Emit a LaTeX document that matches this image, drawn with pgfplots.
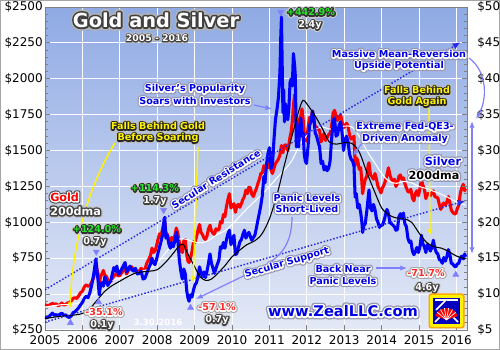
\documentclass[border=0pt]{standalone}
\usepackage{fontspec}
\setmainfont{DejaVu Sans}
\usepackage{pgfplots}
\pgfplotsset{compat=1.18}
\usepackage{pgfplotstable}
\usetikzlibrary{arrows.meta}

\definecolor{bgtop}{RGB}{143,170,228}
\definecolor{bgbot}{RGB}{228,233,246}
\definecolor{axgray}{RGB}{128,128,128}
\definecolor{lblue}{RGB}{128,128,255}
\definecolor{tblue}{RGB}{0,0,230}
\definecolor{dblue}{RGB}{40,40,230}
\definecolor{ggreen}{RGB}{40,230,40}
\definecolor{tred}{RGB}{255,40,40}
\definecolor{hgray}{RGB}{150,150,175}

\pgfplotstableread{
t g s
2005.00 425 6.75
2005.05 422 6.70
2005.10 420 6.85
2005.15 428 7.10
2005.20 436 7.35
2005.25 428 7.05
2005.30 432 7.15
2005.35 420 6.95
2005.40 425 7.20
2005.45 438 7.35
2005.50 424 7.05
2005.55 428 7.10
2005.60 438 6.85
2005.65 440 6.75
2005.70 452 6.95
2005.75 470 7.40
2005.80 475 7.55
2005.85 470 7.80
2005.90 488 8.10
2005.95 510 8.50
2006.00 520 8.85
2006.05 550 9.40
2006.10 565 9.70
2006.15 555 9.50
2006.20 560 10.20
2006.25 585 11.30
2006.30 615 12.70
2006.33 655 13.80
2006.36 720 14.90
2006.39 670 13.20
2006.42 640 11.80
2006.45 570 9.90
2006.48 615 11.00
2006.52 640 11.60
2006.56 665 11.10
2006.60 630 12.40
2006.64 625 11.80
2006.68 600 11.20
2006.72 580 11.60
2006.76 590 11.90
2006.80 600 12.80
2006.84 635 13.70
2006.88 630 13.20
2006.92 645 13.90
2006.96 625 12.80
2007.00 630 12.90
2007.05 650 13.50
2007.10 665 14.00
2007.14 685 14.40
2007.18 640 13.10
2007.22 660 13.40
2007.27 680 13.90
2007.32 690 13.40
2007.37 665 13.20
2007.42 670 13.60
2007.47 650 12.80
2007.52 660 12.90
2007.57 680 13.20
2007.62 665 12.10
2007.67 670 12.20
2007.72 715 12.90
2007.77 740 13.60
2007.82 770 14.20
2007.86 820 15.00
2007.90 790 14.40
2007.94 800 14.10
2007.98 835 14.80
2008.02 880 15.70
2008.06 920 16.50
2008.10 905 17.30
2008.14 950 18.20
2008.17 985 19.80
2008.20 1005 20.70
2008.23 930 17.80
2008.27 915 18.20
2008.31 880 17.00
2008.35 870 16.40
2008.39 895 17.20
2008.43 880 16.60
2008.47 905 17.40
2008.51 960 18.60
2008.55 925 17.60
2008.59 860 14.80
2008.63 810 13.20
2008.67 790 12.10
2008.71 870 13.50
2008.75 880 12.80
2008.79 770 10.40
2008.82 730 9.50
2008.85 720 9.00
2008.89 750 9.90
2008.93 800 9.60
2008.97 865 10.60
2009.01 860 11.30
2009.05 900 11.60
2009.09 945 12.50
2009.13 985 13.80
2009.17 930 13.00
2009.21 915 12.40
2009.25 890 13.10
2009.29 880 12.30
2009.33 905 13.20
2009.37 955 14.30
2009.41 980 15.60
2009.45 940 14.30
2009.49 925 13.60
2009.53 915 12.90
2009.57 955 13.60
2009.61 945 14.20
2009.65 950 14.80
2009.69 1005 16.60
2009.73 995 16.40
2009.77 1055 17.20
2009.81 1040 16.40
2009.85 1110 17.60
2009.89 1160 18.40
2009.93 1200 18.90
2009.97 1100 16.90
2010.01 1120 17.40
2010.05 1130 18.20
2010.09 1070 15.50
2010.13 1115 15.70
2010.17 1125 16.50
2010.21 1105 17.30
2010.25 1130 17.60
2010.29 1160 18.30
2010.33 1180 18.90
2010.37 1225 17.80
2010.41 1200 18.30
2010.45 1245 18.60
2010.49 1240 18.00
2010.53 1195 17.50
2010.57 1180 17.90
2010.61 1210 18.20
2010.65 1235 19.20
2010.69 1270 20.30
2010.73 1300 21.30
2010.77 1340 22.40
2010.81 1345 23.80
2010.85 1395 26.40
2010.88 1360 25.50
2010.92 1400 28.00
2010.96 1380 29.60
2011.00 1415 30.40
2011.04 1365 27.50
2011.08 1340 28.00
2011.12 1375 31.50
2011.16 1410 34.30
2011.20 1425 35.70
2011.24 1440 37.40
2011.28 1470 41.00
2011.30 1505 45.50
2011.32 1535 48.60
2011.34 1520 42.00
2011.36 1485 35.30
2011.38 1515 38.50
2011.40 1535 34.00
2011.43 1540 36.50
2011.46 1525 35.00
2011.49 1500 34.30
2011.52 1545 36.00
2011.55 1595 39.50
2011.58 1630 40.00
2011.61 1700 39.00
2011.64 1810 43.50
2011.67 1890 42.00
2011.69 1810 40.50
2011.72 1640 30.50
2011.75 1630 31.00
2011.78 1660 30.50
2011.81 1725 33.50
2011.84 1745 34.50
2011.87 1790 32.00
2011.90 1720 32.50
2011.93 1600 29.50
2011.96 1590 28.50
2011.99 1565 28.20
2012.03 1655 30.50
2012.07 1730 33.50
2012.11 1720 34.00
2012.15 1775 35.50
2012.19 1700 34.50
2012.22 1670 32.50
2012.26 1660 32.00
2012.30 1650 31.20
2012.34 1640 30.50
2012.38 1560 28.20
2012.42 1590 28.50
2012.46 1620 27.30
2012.50 1570 27.80
2012.54 1590 27.20
2012.58 1610 27.50
2012.62 1620 28.50
2012.66 1670 31.50
2012.70 1760 34.00
2012.74 1780 34.50
2012.78 1740 32.00
2012.82 1710 32.20
2012.86 1730 33.50
2012.90 1750 34.00
2012.94 1700 32.50
2012.98 1660 30.00
2013.02 1670 31.50
2013.06 1690 32.00
2013.10 1670 31.20
2013.14 1610 29.50
2013.18 1580 28.80
2013.22 1590 28.60
2013.26 1600 27.80
2013.29 1395 23.50
2013.32 1450 24.00
2013.36 1430 22.00
2013.40 1370 22.50
2013.44 1380 21.30
2013.47 1280 20.00
2013.49 1200 18.60
2013.52 1250 19.50
2013.56 1300 19.80
2013.60 1320 21.50
2013.64 1400 23.50
2013.66 1415 24.50
2013.70 1330 22.00
2013.74 1320 21.60
2013.78 1300 22.50
2013.82 1340 21.80
2013.86 1300 20.50
2013.90 1250 20.00
2013.94 1230 19.30
2013.98 1205 19.60
2014.02 1240 19.60
2014.06 1260 20.20
2014.10 1290 21.00
2014.14 1330 21.80
2014.18 1380 21.20
2014.22 1330 20.00
2014.26 1300 19.80
2014.30 1290 19.60
2014.34 1300 19.40
2014.38 1250 18.90
2014.42 1270 19.00
2014.46 1320 20.80
2014.50 1330 21.20
2014.54 1300 20.50
2014.58 1310 21.30
2014.62 1270 19.80
2014.66 1240 19.40
2014.70 1215 17.80
2014.74 1210 17.20
2014.78 1230 17.40
2014.82 1170 16.00
2014.86 1150 15.50
2014.90 1200 15.90
2014.94 1220 16.50
2014.98 1185 15.80
2015.02 1230 16.50
2015.06 1300 18.20
2015.10 1260 17.00
2015.14 1230 16.60
2015.18 1165 15.80
2015.22 1200 16.90
2015.26 1200 16.60
2015.30 1185 16.00
2015.34 1205 16.50
2015.38 1220 17.50
2015.42 1180 16.40
2015.46 1175 15.80
2015.50 1170 15.60
2015.54 1125 14.80
2015.58 1090 14.70
2015.62 1120 14.30
2015.66 1135 15.10
2015.70 1120 14.60
2015.74 1140 15.20
2015.78 1180 16.20
2015.82 1140 15.60
2015.86 1085 14.30
2015.90 1070 14.20
2015.94 1060 13.90
2015.98 1060 13.80
2016.02 1095 14.20
2016.06 1120 14.30
2016.10 1200 15.00
2016.14 1240 15.30
2016.18 1265 14.90
2016.22 1220 15.60
2016.24 1235 15.20
}\pricetab

\pgfplotstableread{
t gd
2005.00 410
2005.40 425
2005.80 432
2006.00 448
2006.20 480
2006.40 525
2006.60 570
2006.80 595
2007.00 612
2007.20 628
2007.40 645
2007.60 662
2007.80 675
2008.00 715
2008.20 780
2008.40 845
2008.60 885
2008.80 880
2009.00 862
2009.20 858
2009.40 878
2009.60 915
2009.80 940
2010.00 985
2010.20 1040
2010.40 1095
2010.60 1145
2010.80 1195
2011.00 1250
2011.20 1310
2011.40 1365
2011.60 1430
2011.80 1535
2012.00 1605
2012.20 1645
2012.40 1665
2012.60 1650
2012.80 1655
2013.00 1670
2013.20 1665
2013.40 1600
2013.60 1500
2013.80 1420
2014.00 1340
2014.20 1285
2014.40 1272
2014.60 1285
2014.80 1275
2015.00 1250
2015.20 1235
2015.40 1215
2015.60 1195
2015.80 1170
2016.00 1142
2016.24 1120
}\gdmatab

\pgfplotstableread{
t sd
2005.00 6.6
2005.40 6.9
2005.80 7.1
2006.00 7.3
2006.20 8.0
2006.40 9.2
2006.60 10.4
2006.80 11.2
2007.00 11.8
2007.20 12.4
2007.40 12.9
2007.60 13.1
2007.80 13.2
2008.00 13.4
2008.20 14.3
2008.40 15.5
2008.60 16.8
2008.70 16.9
2008.80 15.8
2009.00 13.8
2009.15 12.4
2009.30 11.9
2009.45 12.1
2009.60 12.8
2009.80 13.9
2010.00 15.2
2010.20 16.1
2010.40 16.9
2010.60 17.4
2010.80 18.4
2011.00 20.5
2011.20 23.8
2011.40 28.0
2011.60 32.0
2011.80 35.8
2011.90 37.0
2012.00 36.5
2012.20 35.0
2012.40 33.2
2012.60 31.2
2012.80 30.9
2013.00 31.1
2013.20 31.0
2013.40 29.8
2013.60 27.0
2013.80 24.4
2014.00 22.0
2014.20 21.0
2014.40 20.6
2014.60 20.5
2014.80 20.0
2015.00 18.5
2015.20 17.2
2015.40 16.6
2015.60 16.4
2015.80 15.9
2016.00 15.3
2016.24 14.9
}\sdmatab

% outlined text through the PDF text render mode (stroke), then normal fill on top
\newcommand\strk[2]{\special{pdf:literal direct 1 Tr #1 w 1 j 1 J}#2\special{pdf:literal direct 0 Tr}}
% \halo{x}{y}{node opts}{stroke colour}{stroke width}{text colour}{text}
\newcommand\halo[7]{%
 \node[inner sep=0pt,#3] at (#1,#2) {\rlap{\color{#4}\strk{#5}{#7}}{\color{#6}#7}};}
% \haloo{x}{y}{node opts}{outer colour}{outer width}{inner colour}{inner width}{text colour}{text}
\newcommand\haloo[9]{%
 \node[inner sep=0pt,#3] at (#1,#2) {\rlap{\color{#4}\strk{#5}{#9}}\rlap{\color{#6}\strk{#7}{#9}}{\color{#8}#9}};}
\newcommand\bluetxt[4]{\haloo{#1}{#2}{#3}{hgray}{3.8}{white}{2.1}{tblue}{#4}}
\newcommand\fA{\fontsize{7.2}{8.6}\selectfont\bfseries}
\newcommand\fB{\fontsize{8.4}{10}\selectfont\bfseries}
\newcommand\fT{\fontsize{14.5}{17}\selectfont\bfseries}
\newcommand\fS{\fontsize{7}{8}\selectfont\bfseries}
\newcommand\fW{\fontsize{11}{13}\selectfont\bfseries}

\pgfplotsset{
  common/.style={
    at={(33.75pt,15pt)}, anchor=south west, scale only axis,
    width=316.5pt, height=242.25pt,
    xmin=2005, xmax=2016.28,
    /pgf/number format/assume math mode=true,
    /pgf/number format/1000 sep={},
    tick label style={font=\fontsize{9}{10}\selectfont},
    axis line style={axgray},
    tick style={axgray, line width=0.6pt},
    major tick length=3.5pt, minor tick length=2pt,
    tick align=inside,
  }
}

\begin{document}
\begin{tikzpicture}
\useasboundingbox (0,0) rectangle (375pt,262.5pt);
\fill[white] (0,0) rectangle (375pt,262.5pt);
\draw[axgray!70, line width=0.75pt] (0.375pt,0.375pt) rectangle (374.625pt,262.125pt);

\begin{axis}[common,
  ymin=250, ymax=2500,
  axis background/.style={top color=bgtop, bottom color=bgbot},
  grid=major, grid style={white, line width=0.75pt},
  xtick={2005,...,2016},
  ytick={250,500,...,2500},
  minor y tick num=4,
  tick pos=left,
  yticklabel={\$\pgfmathprintnumber{\tick}},
  yticklabel style={anchor=east, inner sep=0pt, xshift=-1.5pt},
  xticklabel style={anchor=north, inner sep=0pt, yshift=-4pt},
]
\addplot[red, line width=2.3pt, line join=round] table[x=t,y=g] {\pricetab};
\addplot[white, line width=0.8pt, smooth] table[x=t,y=gd] {\gdmatab};
\end{axis}

\begin{axis}[common,
  ymin=5, ymax=50,
  axis y line*=right, axis x line=none,
  ytick={5,10,...,50},
  minor y tick num=4,
  yticklabel={\$\pgfmathprintnumber{\tick}},
  yticklabel style={anchor=west, inner sep=0pt, xshift=7.5pt},
]
\addplot[blue, line width=2.3pt, line join=round] table[x=t,y=s] {\pricetab};
\addplot[black, line width=0.8pt, smooth] table[x=t,y=sd] {\sdmatab};
\addplot[dblue, line width=1.1pt, dash pattern=on 1.1pt off 1.4pt, -{Latex[length=6pt,width=5pt]}] coordinates {(2005.0,10.6) (2016.11,45.1)};
\addplot[dblue, line width=1.1pt, dash pattern=on 1.1pt off 1.4pt, -{Latex[length=6pt,width=5pt]}] coordinates {(2005.0,6.1) (2016.24,23.0)};
\addplot[only marks, mark=triangle*, mark size=2.6pt, lblue, mark options={rotate=180}] coordinates {(2006.37,15.9) (2008.17,21.7) (2011.30,49.3)};
\addplot[only marks, mark=triangle*, mark size=2.6pt, lblue] coordinates {(2005.68,6.0) (2006.43,8.9) (2008.89,8.1) (2015.98,12.7)};
\end{axis}

\begin{scope}[x=0.75pt, y=-0.75pt, yshift=262.5pt]
% yellow arrows
\draw[yellow, line width=1.1pt, -{Latex[length=5pt,width=4pt]}] (115,143) .. controls (86,190) and (72,250) .. (70,309);
\draw[yellow, line width=1.1pt, -{Latex[length=5pt,width=4pt]}] (198,147) -- (193,283);
\draw[yellow, line width=1.1pt, -{Latex[length=5pt,width=4pt]}] (429,108) -- (430,236);
% light blue arrows
\draw[lblue, line width=0.9pt, -{Latex[length=5pt,width=4pt]}] (254,105) -- (272,109);
\draw[lblue, line width=0.9pt, -{Latex[length=5pt,width=4pt]}] (362,143) -- (353,156);
\draw[lblue, line width=0.9pt, -{Latex[length=5pt,width=4pt]}] (292,217) .. controls (292,245) and (280,258) .. (260,268) -- (196,299);
\draw[lblue, line width=0.9pt, -{Latex[length=5pt,width=4pt]}] (376,268) -- (407,268);
\draw[lblue, line width=0.9pt, -{Latex[length=5pt,width=4pt]}] (469,58) .. controls (488,72) and (487,100) .. (476,119);
\draw[lblue, line width=1.1pt, {Latex[length=5pt,width=4pt]}-{Latex[length=5pt,width=4pt]}] (472,121) -- (472,254);

% title
\haloo{156}{20}{font=\fT}{gray!60}{5}{black!75}{2.6}{white}{Gold and Silver}
\haloo{157}{38}{font=\fS}{gray!50}{3}{black!75}{1.6}{white}{2005 - 2016}

% blue texts
\bluetxt{195}{89}{font=\fA}{Silver's Popularity}
\bluetxt{195}{101}{font=\fA}{Soars with Investors}
\bluetxt{399}{54}{font=\fA}{Massive Mean-Reversion}
\bluetxt{399}{66}{font=\fA}{Upside Potential}
\bluetxt{405}{127}{font=\fA}{Extreme Fed-QE3-}
\bluetxt{405}{139}{font=\fA}{Driven Anomaly}
\bluetxt{307}{198}{font=\fA}{Panic Levels}
\bluetxt{307}{209}{font=\fA}{Short-Lived}
\bluetxt{343}{269}{font=\fA}{Back Near}
\bluetxt{343}{281}{font=\fA}{Panic Levels}
\bluetxt{216}{179}{font=\fA,rotate=32}{Secular Resistance}
\bluetxt{287}{263}{font=\fA,rotate=16.5}{Secular Support}

% yellow texts
\haloo{158}{126}{font=\fA}{gray!50}{3.6}{black!85}{2}{yellow}{Falls Behind Gold}
\haloo{158}{138}{font=\fA}{gray!50}{3.6}{black!85}{2}{yellow}{Before Soaring}
\haloo{417}{90}{font=\fA}{gray!50}{3.6}{black!85}{2}{yellow}{Falls Behind}
\haloo{417}{102}{font=\fA}{gray!50}{3.6}{black!85}{2}{yellow}{Gold Again}

% series labels
\haloo{50}{197}{font=\fB,anchor=west}{black!70}{3.6}{white}{2}{red}{Gold}
\haloo{50}{211}{font=\fB,anchor=west}{gray!50}{3.8}{black!75}{2.2}{white}{200dma}
\haloo{443}{161}{font=\fB}{hgray}{4}{white}{2.2}{tblue}{Silver}
\haloo{434}{175}{font=\fB}{hgray}{4}{white}{2.2}{black}{200dma}

% gains
\haloo{97}{229}{font=\fA}{gray!40}{3.6}{black!80}{2}{ggreen}{+124.0\%}
\haloo{95}{242}{font=\fA}{gray!40}{3.6}{black!75}{2}{white}{0.7y}
\haloo{155}{188}{font=\fA}{gray!40}{3.6}{black!80}{2}{ggreen}{+114.3\%}
\haloo{155}{201}{font=\fA}{gray!40}{3.6}{black!75}{2}{white}{1.7y}
\haloo{311}{12}{font=\fA}{gray!40}{3.6}{black!80}{2}{ggreen}{+442.9\%}
\haloo{310}{25}{font=\fA}{gray!40}{3.6}{black!75}{2}{white}{2.4y}
% losses
\haloo{104}{312}{font=\fA}{gray!70}{3.6}{white}{2}{tred}{-35.1\%}
\haloo{102}{325}{font=\fA}{gray!40}{3.6}{black!75}{2}{white}{0.1y}
\haloo{217}{307}{font=\fA}{gray!70}{3.6}{white}{2}{tred}{-57.1\%}
\haloo{217}{320}{font=\fA}{gray!40}{3.6}{black!75}{2}{white}{0.7y}
\haloo{426}{273}{font=\fA}{gray!70}{3.6}{white}{2}{tred}{-71.7\%}
\haloo{427}{288}{font=\fA}{gray!40}{3.6}{black!75}{2}{white}{4.6y}

\node[text=white, font=\fontsize{6.5}{7}\selectfont\bfseries] at (158,322) {3.30.2016};

% website
\haloo{343}{311}{font=\fW}{hgray}{4.4}{white}{2.4}{tblue}{www.ZealLLC.com}

% logo
\fill[orange!70!yellow, rounded corners=2pt] (428.5,293.5) rectangle (464.5,328.5);
\fill[yellow, rounded corners=1.5pt] (430,295) rectangle (463,327);
\fill[blue!75!black] (433,298) rectangle (460,324);
\draw[white, line width=1.2pt] (435,300) -- (446,300) -- (436,310);
\draw[white, line width=1.2pt] (458,300) -- (447,300);
\draw[white, line width=1.2pt] (435,322) -- (441,316);
\draw[white, line width=1.2pt] (458,322) -- (452,316);
\fill[red] (446.5,320) -- ++(200:12) arc[start angle=200, end angle=340, radius=12] -- cycle;
\foreach \b in {220,240,260,280,300,320}{\draw[white, line width=0.5pt] (446.5,320) -- ++(\b:12);}
\end{scope}
\end{tikzpicture}
\end{document}
